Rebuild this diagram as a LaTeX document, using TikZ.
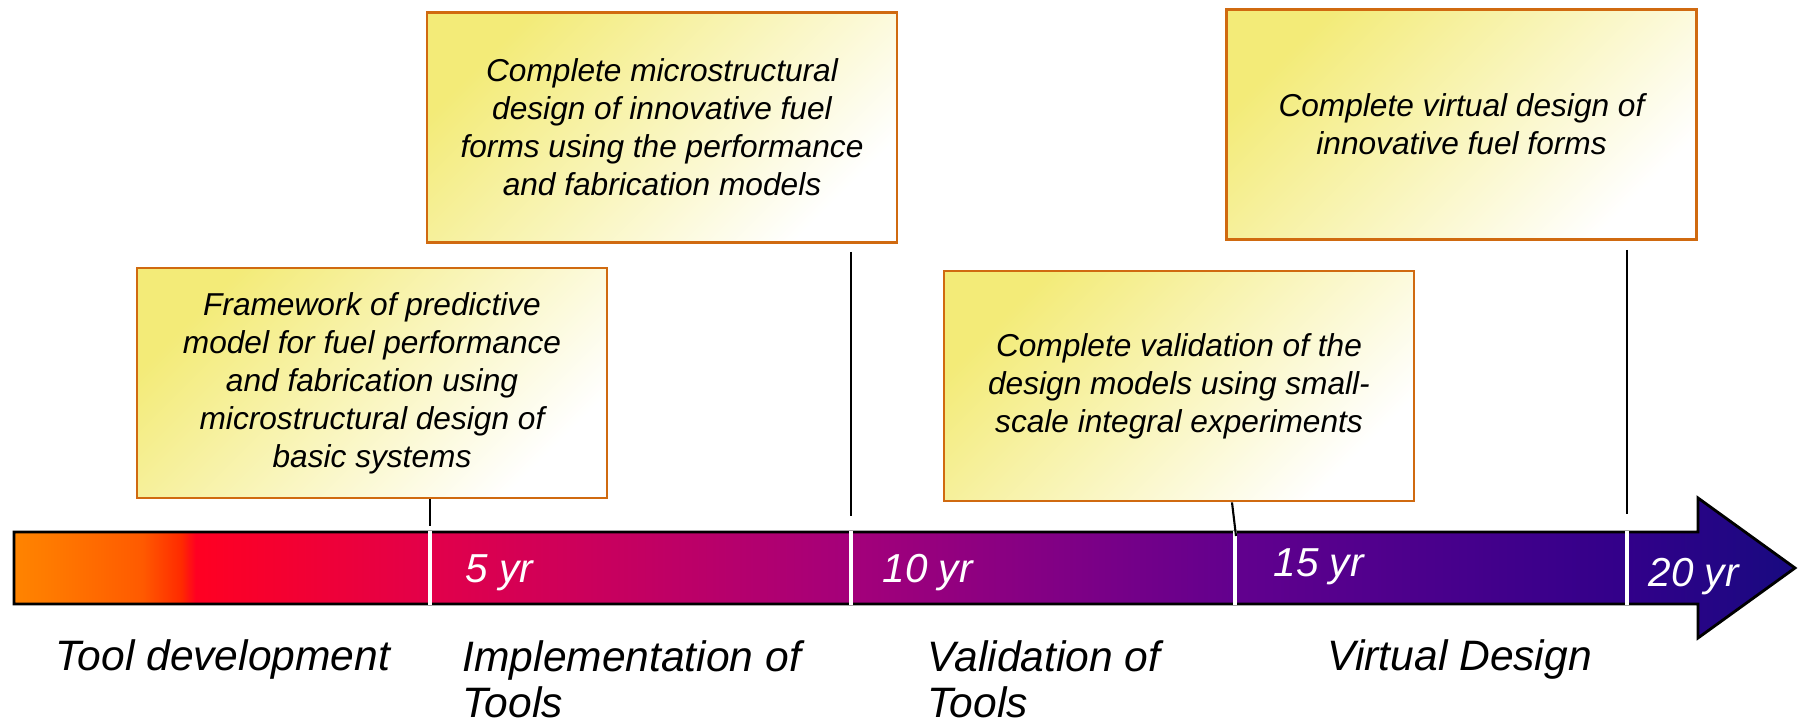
\documentclass[tikz,border=0pt]{standalone}
\usepackage{fontspec}
\setmainfont{Liberation Sans}
\usetikzlibrary{positioning}

\definecolor{boxedge}{HTML}{D06A10}
\definecolor{boxyellow}{HTML}{F3EB78}
\definecolor{barA}{HTML}{FF8400}
\definecolor{barB}{HTML}{FF7A00}
\definecolor{barC}{HTML}{FF5A00}
\definecolor{barD}{HTML}{FF2A00}
\definecolor{barE}{HTML}{FF0022}
\definecolor{barF}{HTML}{E2004A}
\definecolor{barG}{HTML}{A4007A}
\definecolor{barH}{HTML}{62008E}
\definecolor{barI}{HTML}{32008A}
\definecolor{barJ}{HTML}{180A80}

\pgfdeclarehorizontalshading{timebar}{100bp}{color(0bp)=(barA); color(25bp)=(barA);
  color(26.0bp)=(barB); color(28.6bp)=(barC); color(29.7bp)=(barD); color(30.1bp)=(barE);
  color(36.7bp)=(barF); color(48.5bp)=(barG); color(59.3bp)=(barH); color(70.2bp)=(barI);
  color(75bp)=(barJ); color(100bp)=(barJ)}

\begin{document}
\begin{tikzpicture}[
  x=0.01cm, y=-0.01cm,
  goal/.style={draw=boxedge, line width=0.75pt, top color=boxyellow, bottom color=white,
    shading angle=45, minimum width=4.7cm, minimum height=2.3cm, align=center, inner sep=0pt,
    font=\itshape\fontsize{9}{10.8}\selectfont},
  yr/.style={text=white, anchor=base west, inner sep=0pt, font=\itshape\fontsize{11.5}{13.3}\selectfont},
  phase/.style={align=left, anchor=base west, inner sep=0pt, font=\itshape\fontsize{12.1}{13.3}\selectfont},
  tick/.style={line width=0.6pt},
  divider/.style={white, line width=1.2pt}
]
\useasboundingbox (0,0) rectangle (1799,722);

% time bar
\shadedraw[shading=timebar, draw=black, line width=0.8pt]
  (14,532) -- (1698,532) -- (1698,498) -- (1795,568) -- (1698,638) -- (1698,604) -- (14,604) -- cycle;

\coordinate (div5) at (430,532);
\coordinate (div10) at (851,532);
\coordinate (div15) at (1235,532);
\coordinate (div20) at (1627,532);

\draw[divider] (430,531) -- (430,605);
\draw[divider] (851,531) -- (851,605);
\draw[divider] (1235,531) -- (1235,605);
\draw[divider] (1627,531) -- (1627,605);

\node[yr] (y5) at (465,583) {5 yr};
\node[yr] (y10) at (882,583) {10 yr};
\node[yr] (y15) at (1273,577) {15 yr};
\node[yr] (y20) at (1648,587) {20 yr};

% milestones
\node[goal] (frame) at (372,383) {Framework of predictive\\model for fuel performance\\and fabrication using\\microstructural design of\\basic systems};
\node[goal] (micro) at (662,127.5) {Complete microstructural\\design of innovative fuel\\forms using the performance\\and fabrication models};
\node[goal] (valid) at (1179,386) {Complete validation of the\\design models using small-\\scale integral experiments};
\node[goal] (virtual) at (1461.5,124.5) {Complete virtual design of\\innovative fuel forms};

\coordinate (t5) at (430,526);
\coordinate (t10a) at (851,252);
\coordinate (t10b) at (851,516);
\coordinate (t15) at (1236,536);
\coordinate (t20a) at (1627,250);
\coordinate (t20b) at (1627,514);

\draw[tick] (frame.south -| t5) -- (t5);
\draw[tick] (t10a) -- (t10b);
\draw[tick] ([xshift=-0.04cm]valid.south -| t15) -- (t15);
\draw[tick] (t20a) -- (t20b);

% phases (base = last line)
\node[phase] (tooldev) at (55,671) {Tool development};
\node[phase] (impl) at (462,718) {Implementation of\\Tools};
\node[phase] (valtools) at (927,718) {Validation of\\Tools};
\node[phase] (vdesign) at (1327,671) {Virtual Design};
\end{tikzpicture}
\end{document}
